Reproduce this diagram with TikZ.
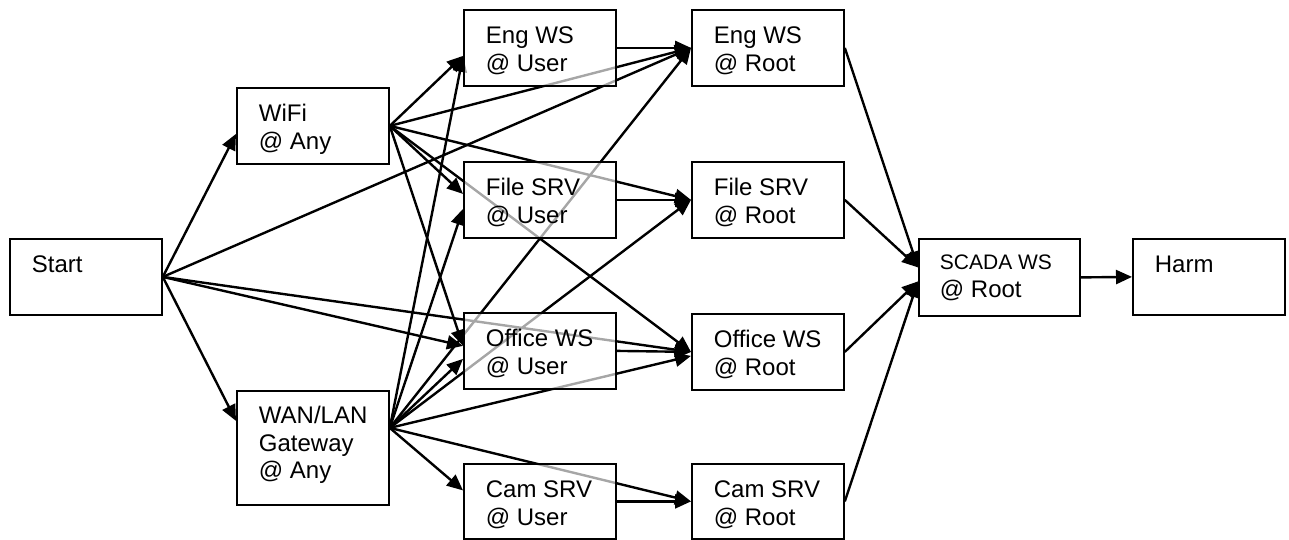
\documentclass[tikz,border=0pt]{standalone}
\usepackage{fontspec}
\setmainfont{Liberation Sans}
\usetikzlibrary{arrows.meta}
\pgfdeclarelayer{edges}
\pgfsetlayers{edges,main}
\tikzset{
  hostbox/.style={rectangle,draw,line width=0.9pt,fill=white,fill opacity=0.65,
    text opacity=1,anchor=north west,inner xsep=11pt,inner ysep=0pt,
    text height=17pt,text depth=21pt,
    execute at begin node={\begin{minipage}[t]{#1}},
    execute at end node={\end{minipage}}},
  hostbox/.default=54pt,
  arr/.style={line width=1.2pt,-{Triangle[length=8pt,width=7pt]}}
}
\begin{document}
\begin{tikzpicture}[x=0.5pt,y=-0.5pt,font={\fontsize{12pt}{13.6pt}\selectfont}]
  \useasboundingbox (0,0) rectangle (1289,540);
  \path (9,238) node(start)[hostbox]{Start}
    (236,87) node(wifi)[hostbox]{WiFi\\@ Any}
    (236,390) node(wan)[hostbox,text height=16.5pt,text depth=40.5pt]{WAN/LAN\\Gateway\\@ Any}
    (463,9) node(engU)[hostbox]{Eng WS\\@ User}
    (463,161) node(fileU)[hostbox]{File SRV\\@ User}
    (463,312) node(offU)[hostbox]{Office WS\\@ User}
    (463,463) node(camU)[hostbox,text depth=20.5pt]{Cam SRV\\@ User}
    (691,9) node(engR)[hostbox]{Eng WS\\@ Root}
    (691,161) node(fileR)[hostbox]{File SRV\\@ Root}
    (691,313) node(offR)[hostbox]{Office WS\\@ Root}
    (691,463) node(camR)[hostbox,text depth=20.5pt]{Cam SRV\\@ Root}
    (918,238) node(scada)[hostbox=59.5pt,inner xsep=10.5pt,text height=15.5pt,text depth=23pt]{{\fontsize{10.5pt}{13.6pt}\selectfont SCADA WS}\\@ Root}
    (1132,238) node(harm)[hostbox]{Harm};
  \begin{pgfonlayer}{edges}
    % from start
    \draw[arr] (start.east) -- ([yshift=-4pt]wifi.west);
    \draw[arr] (start.east) -- ([yshift=13.5pt]wan.west);
    \draw[arr] (start.east) -- (engR.west);
    \draw[arr] (start.east) -- ([yshift=2.5pt]offU.west);
    \draw[arr] (start.east) -- (offR.west);
    % from wifi
    \draw[arr] (wifi.east) -- ([yshift=-4pt]engU.west);
    \draw[arr] (wifi.east) -- (engR.west);
    \draw[arr] (wifi.east) -- ([yshift=3pt]fileU.west);
    \draw[arr] (wifi.east) -- (fileR.west);
    \draw[arr] (wifi.east) -- ([yshift=2.5pt]offU.west);
    \draw[arr] (wifi.east) -- (offR.west);
    % from gateway
    \draw[arr] ([yshift=10pt]wan.east) -- ([yshift=-4pt]engU.west);
    \draw[arr] ([yshift=10pt]wan.east) -- ([yshift=-4.5pt]fileU.west);
    \draw[arr] ([yshift=10pt]wan.east) -- ([yshift=-4pt]offU.west);
    \draw[arr] ([yshift=10pt]wan.east) -- ([yshift=5.5pt]camU.west);
    \draw[arr] ([yshift=10pt]wan.east) -- (engR.west);
    \draw[arr] ([yshift=10pt]wan.east) -- (fileR.west);
    \draw[arr] ([yshift=10pt]wan.east) -- ([yshift=-2pt]offR.west);
    \draw[arr] ([yshift=10pt]wan.east) -- (camR.west);
    % user to root
    \draw[arr] (engU.east) -- (engR.west);
    \draw[arr] (fileU.east) -- (fileR.west);
    \draw[arr] (offU.east) -- (offR.west);
    \draw[arr] (camU.east) -- (camR.west);
    % root to scada
    \draw[arr] (engR.east) -- ([yshift=5pt]scada.west);
    \draw[arr] (fileR.east) -- ([yshift=5pt]scada.west);
    \draw[arr] (offR.east) -- ([yshift=-2pt]scada.west);
    \draw[arr] (camR.east) -- ([yshift=-2pt]scada.west);
    \draw[arr] (scada.east) -- (harm.west);
  \end{pgfonlayer}
\end{tikzpicture}
\end{document}
